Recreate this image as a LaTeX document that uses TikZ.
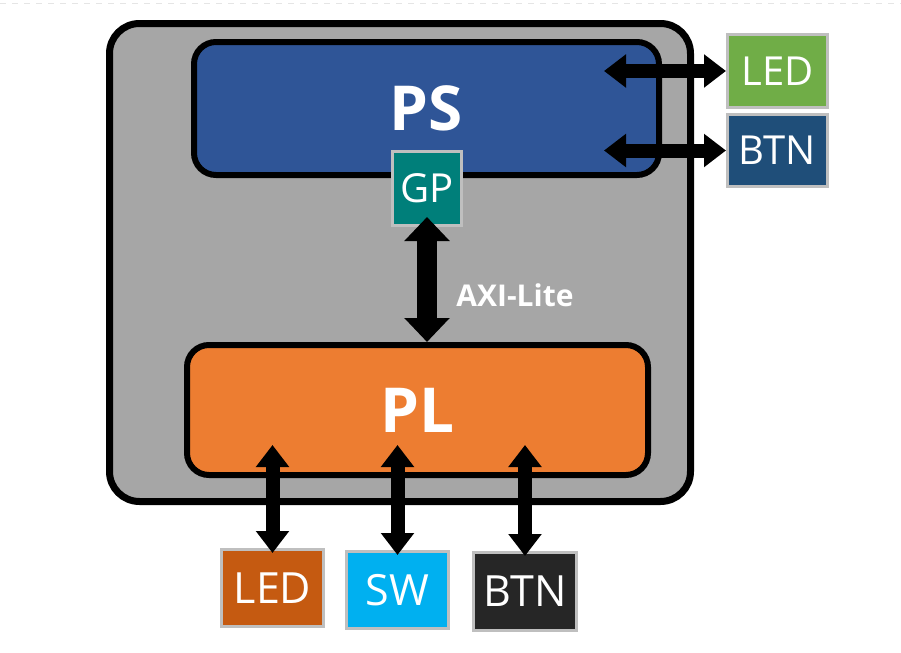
\documentclass[tikz,border=0pt]{standalone}
\usepackage{fontspec}
\setmainfont{Open Sans}
\usetikzlibrary{arrows.meta}

\definecolor{boardGray}{HTML}{A6A6A6}
\definecolor{psBlue}{HTML}{2F5597}
\definecolor{plOrange}{HTML}{ED7D31}
\definecolor{gpTeal}{HTML}{007F7A}
\definecolor{ledGreen}{HTML}{70AD47}
\definecolor{btnBlue}{HTML}{1F4E79}
\definecolor{ledBrown}{HTML}{C55A11}
\definecolor{swCyan}{HTML}{00B0F0}
\definecolor{btnBlack}{HTML}{262626}
\definecolor{edgeGray}{HTML}{BFBFBF}

\tikzstyle{bigS}=[rectangle,rounded corners=11pt,draw=black,line width=3pt,inner sep = 0pt,text=white,font=\fontsize{31}{31}\selectfont\bfseries]
\tikzstyle{ioS}=[rectangle,draw=edgeGray,line width=1.5pt,inner sep = 0pt,text=white,font=\fontsize{20}{20}\selectfont]
\tikzstyle{ioB}=[ioS,font=\fontsize{21.5}{21.5}\selectfont]
\tikzstyle{aS}=[line width=7pt,{Triangle[width=16pt,length=11pt]}-{Triangle[width=16pt,length=11pt]}]
\tikzstyle{aBig}=[line width=10pt,{Triangle[width=22pt,length=12pt]}-{Triangle[width=22pt,length=12pt]}]

\begin{document}
\begin{tikzpicture}[x=0.5pt,y=-0.5pt]
    \useasboundingbox (0,0) rectangle (901,653);
    \draw[gray!20,dashed] (0,3) -- (901,3);
    % board and the two halves
    \draw (400,262.5) node[rectangle,rounded corners=15pt,draw=black,line width=3.5pt,fill=boardGray,minimum width=290.5pt,minimum height=239pt] (board) {};
    \draw (426.5,108.5) node[bigS,fill=psBlue,minimum width=232.5pt,minimum height=66.5pt] (PS) {PS};
    \draw (417.5,410) node[bigS,fill=plOrange,minimum width=230.5pt,minimum height=65pt] (PL) {PL};
    \draw (427,188.5) node[ioS,fill=gpTeal,minimum width=34.5pt,minimum height=37pt] (GP) {GP};
    % outside parts
    \draw (777.5,71) node[ioS,fill=ledGreen,minimum width=50pt,minimum height=36.5pt] (psLED) {LED};
    \draw (777.5,150.5) node[ioS,fill=btnBlue,minimum width=50pt,minimum height=36pt] (psBTN) {BTN};
    \draw (272.5,588) node[ioB,fill=ledBrown,minimum width=51pt,minimum height=38.5pt] (plLED) {LED};
    \draw (397.5,590) node[ioB,fill=swCyan,minimum width=51pt,minimum height=38.5pt] (plSW) {SW};
    \draw (525,591.5) node[ioB,fill=btnBlack,minimum width=51.5pt,minimum height=39pt] (plBTN) {BTN};
    \coordinate (psIn) at (604,0);
    \coordinate (plIn) at (0,445);
    % links
    \draw[aBig] ([yshift=5pt]GP.south) -- (GP.south |- PL.north);
    \draw[aS] (psIn |- psLED.west) -- (psLED.west);
    \draw[aS] (psIn |- psBTN.west) -- (psBTN.west);
    \draw[aS] (plIn -| plLED.north) -- ([yshift=-2.5pt]plLED.north);
    \draw[aS] (plIn -| plSW.north) -- ([yshift=-2.5pt]plSW.north);
    \draw[aS] (plIn -| plBTN.north) -- ([yshift=-2.5pt]plBTN.north);
    \draw (515,295) node[text=white,font=\fontsize{15}{15}\selectfont\bfseries] (axi) {AXI-Lite};
\end{tikzpicture}
\end{document}
